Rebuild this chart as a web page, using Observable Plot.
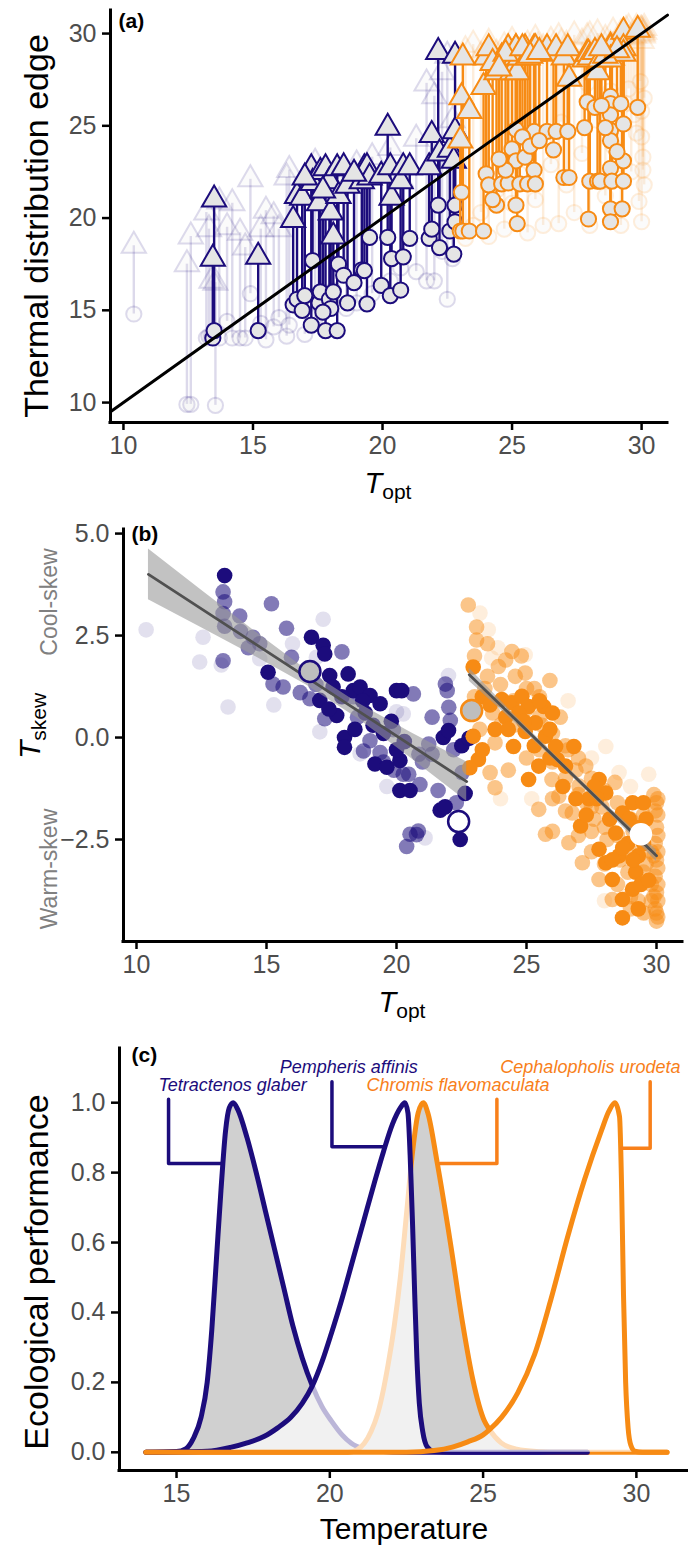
<!DOCTYPE html>
<html>
<head>
<meta charset="utf-8">
<script src="https://cdn.jsdelivr.net/npm/d3@7"></script>
<script src="https://cdn.jsdelivr.net/npm/@observablehq/plot@0.6"></script>
<style>
  body { margin: 0; background: #fff; }
  #chart { width: 688px; }
  #chart svg { display: block; }
  g[aria-label$="tick label"] { fill: #4d4d4d; }
</style>
</head>
<body>
<div id="chart"></div>
<script>
const fontStack = "'Liberation Sans', Arial, Helvetica, sans-serif";
const NAVY = "#1c0c7c";
const ORANGE = "#f78b14";
const TXT_ORANGE = "#f8801a";
const MARK_FILL = "#e5e5e5";

// ---------- Panel (a): [Topt, cool edge (circle), warm edge (triangle)] ----------
const ticksToptA = [10, 15, 20, 25, 30];
const ticksEdgeA = [10, 15, 20, 25, 30];
const domToptA = [9.5, 31.0];
const domEdgeA = [8.92, 31.25];

const navyBoldA = [
  [13.45,13.5,17.8],[13.5,13.9,21.0],[15.2,13.9,17.9],[16.55,15.3,19.9],[16.7,15.6,21.2],
  [16.9,15.0,21.1],[17.25,14.2,22.7],[17.3,17.7,21.9],[17.55,15.4,20.8],[17.6,16.0,22.5],
  [17.8,13.9,22.7],[17.95,15.6,22.0],[18.0,15.1,20.3],[18.1,16.0,19.0],[18.25,13.9,22.7],
  [18.3,17.5,21.2],[18.5,16.9,22.75],[18.65,15.4,21.75],[19.2,17.2,22.0],[19.3,17.15,22.7],
  [19.4,15.35,22.75],[19.5,18.95,22.2],[19.95,16.35,22.3],[20.2,18.95,24.9],[20.3,15.8,22.75],
  [20.35,17.8,21.1],[20.7,16.1,22.0],[20.8,17.9,22.75],[21.05,18.9,22.75],[21.8,18.9,22.75],
  [21.9,19.4,24.5],[22.15,20.7,29.0],[22.2,18.4,23.5],[22.6,19.3,23.7],[22.75,18.05,23.1],
  [22.8,20.7,28.8],[22.8,19.8,24.7],[17.0,15.8,22.2],[17.7,14.9,21.5],[18.9,16.5,22.4]
];
const orangeBoldA = [
  [23.0,19.3,24.2],[23.05,21.4,26.55],[23.1,19.3,28.7],[23.35,19.3,25.8],[23.9,19.3,27.1],
  [24.0,22.4,28.7],[24.1,21.8,29.2],[24.4,20.7,27.9],[24.6,21.85,28.7],[24.85,21.9,29.2],
  [25.0,23.75,27.9],[25.15,23.1,29.2],[25.15,24.8,28.7],[25.2,19.7,27.9],[25.15,20.7,29.2],
  [25.3,21.85,28.7],[25.5,23.3,29.2],[25.6,21.85,28.7],[25.85,22.6,29.2],[25.85,24.7,28.9],
  [25.9,21.85,29.2],[26.35,24.7,29.2],[26.6,23.7,28.9],[26.7,24.7,29.2],[27.0,22.2,28.7],
  [27.15,24.7,29.2],[27.2,22.2,27.55],[27.8,24.9,28.6],[27.9,26.3,28.9],[27.95,19.95,28.9],
  [28.0,22.0,28.7],[28.2,26.0,29.0],[28.3,22.0,27.9],[28.4,22.0,28.6],[28.8,26.6,29.3],
  [28.8,26.2,28.9],[28.8,25.6,29.0],[28.8,24.75,29.2],[28.8,24.2,28.9],[28.8,22.7,29.0],
  [28.85,22.0,28.7],[28.8,20.5,29.2],[28.8,19.8,28.6],[29.2,26.2,29.3],[29.25,20.5,29.2],
  [29.3,25.1,30.1],[29.3,23.1,29.2],[29.3,22.0,28.9],[29.85,26.0,30.2],
  [24.25,21.0,28.4],[24.75,22.6,28.9],[25.4,24.4,29.2],[25.7,23.9,28.8],[26.05,24.2,29.0],
  [24.5,23.2,28.1],[28.6,24.9,28.8],[29.05,23.6,29.1],[28.45,26.1,29.2]
];
const navyFadedA = [
  [10.4,14.8,18.5],[12.45,9.9,17.5],[12.6,9.9,19.0],[13.55,9.85,16.5],[13.2,13.5,20.3],
  [13.3,13.6,19.4],[13.4,13.6,16.6],[13.7,13.5,20.9],[14.0,14.4,19.5],[14.2,13.5,20.8],
  [14.5,13.5,19.2],[14.7,13.5,18.4],[14.9,15.9,22.1],[15.3,14.3,19.4],[15.5,13.4,20.4],
  [15.8,14.1,20.1],[16.0,14.6,19.4],[16.3,13.6,22.2],[16.4,14.2,22.6],[17.0,13.7,21.6],
  [17.4,14.6,23.0],[18.1,16.1,22.3],[18.6,15.1,22.2],[19.0,15.4,22.9],[19.6,15.9,23.3],
  [20.3,16.6,23.8],[20.7,17.3,22.1],[21.3,17.1,24.3],[21.7,16.6,27.3],[22.0,16.6,26.6],
  [22.3,18.2,27.9],[22.5,15.6,28.8],[22.7,17.8,25.3]
];
const orangeFadedA = [
  [23.2,18.9,29.1],[23.5,19.6,29.4],[23.8,20.3,28.8],[24.1,19.0,29.5],[24.4,21.5,28.9],
  [24.7,19.4,29.3],[25.0,20.8,29.6],[25.3,22.4,29.0],[25.6,19.2,29.4],[25.9,21.0,29.7],
  [26.2,19.6,29.2],[26.5,22.9,29.6],[26.8,19.7,29.8],[27.1,21.8,29.4],[27.4,20.3,29.9],
  [27.7,23.5,29.5],[28.0,19.6,29.9],[28.3,25.3,30.0],[28.6,21.2,29.7],[28.9,23.9,30.1],
  [29.2,19.6,30.0],[29.4,26.2,30.2],[29.6,22.5,29.8],[29.8,24.6,30.3],[29.9,20.9,30.0],
  [30.0,25.8,30.2],[30.05,23.3,29.9],[30.1,21.8,30.3],[30.1,26.5,30.1],[30.0,19.8,30.2],
  [29.5,27.0,30.3],[26.9,25.2,29.5],[26.0,24.3,29.3],[24.9,23.5,29.0],[27.9,27.3,29.8],
  [28.8,26.9,29.4],[30.0,24.4,29.6],[30.05,22.6,30.0],[29.95,27.4,30.2],[29.7,25.6,29.9]
];

// ---------- Panel (b): [Topt, Tskew] ----------
const ticksToptB = [10, 15, 20, 25, 30];
const ticksSkewB = [-2.5, 0, 2.5, 5];
const domToptB = [9.5, 31.0];
const domSkewB = [-5.0, 5.1];

const navySolidB = [
  [13.39,3.97],[16.73,2.46],[17.18,2.26],[17.24,2.05],[15.06,1.6],[17.43,1.52],[18.14,1.56],
  [17.56,1.24],[18.34,1.15],[18.6,1.24],[18.98,1.03],[19.37,0.83],[20.0,1.15],[17.05,0.91],
  [17.7,0.54],[18.0,0.0],[18.0,-0.24],[19.17,-0.65],[19.63,-0.73],[20.13,-0.56],[20.13,-1.3],
  [20.52,-1.3],[20.0,-0.3],[20.3,-0.1],[21.8,0.0],[22.51,-0.2],[22.64,-1.37],[21.68,-1.78],
  [21.87,-1.7],[22.45,-2.5],[22.79,-0.02],[22.0,0.17],[20.2,1.15],[18.8,0.6],[19.1,0.3],
  [18.4,0.2],[19.8,0.4],[17.9,1.0],[18.7,0.9],[19.5,0.1],[17.4,0.7]
];
const navyMidB = [
  [13.33,3.57],[13.39,3.33],[13.33,3.04],[13.97,2.98],[13.39,2.73],[15.19,3.28],[15.77,2.68],
  [14.48,2.46],[14.74,2.3],[13.33,1.88],[17.9,2.1],[15.25,1.31],[15.64,1.24],[16.67,0.95],
  [17.24,0.46],[15.96,1.97],[18.34,1.0],[18.98,-0.08],[19.37,-0.37],[18.73,-0.33],[19.88,0.19],
  [20.65,1.07],[20.26,-0.9],[20.52,-2.37],[20.84,-2.29],[21.88,1.31],[21.95,1.15],[22.01,0.74],
  [21.37,0.5],[22.07,0.42],[21.24,-0.16],[20.86,-0.41],[21.37,-0.41],[22.53,-0.86],[20.47,-0.9],
  [20.9,-1.15],[20.77,-2.38],[20.39,-2.67],[14.0,2.6],[16.3,1.1],[19.5,-0.6],[21.6,-1.3],
  [22.3,-1.6],[18.5,0.5],[14.3,2.2],[16.9,1.3],[19.9,-0.8],[21.0,-0.6],[22.2,-0.3]
];
const navyFaintB = [
  [10.37,2.64],[12.56,2.46],[12.43,1.85],[13.26,1.78],[13.52,0.75],[15.28,0.8],[17.18,2.9],
  [16.92,1.97],[20.0,0.63],[19.63,-1.2],[14.74,1.93],[17.05,0.14],[21.1,-2.46],[20.26,0.58],
  [22.0,1.52],[18.6,-0.4],[16.0,2.3]
];
const orangeSolidB = [
  [22.95,1.73],[22.95,0.03],[23.15,-0.54],[22.82,-0.74],[23.79,0.2],[24.05,0.93],[24.44,0.85],
  [24.82,1.01],[25.08,0.76],[25.66,0.76],[24.5,-0.22],[24.95,0.15],[25.34,0.36],[25.73,0.03],
  [26.12,-0.22],[26.82,-0.22],[25.08,-1.03],[25.47,-0.7],[26.5,-0.7],[27.08,-2.17],[27.79,-1.03],
  [28.05,-1.36],[27.79,-2.74],[28.05,-3.07],[28.43,-2.34],[28.69,-1.85],[29.08,-1.6],[28.95,-2.0],
  [28.56,-2.9],[28.3,-3.48],[28.69,-3.97],[29.08,-3.72],[28.69,-4.42],[29.2,-3.3],[26.18,-0.54],
  [27.6,-1.2],[26.0,0.6],[25.5,0.9],[24.2,0.5],[23.3,-0.3],[29.3,-2.9],[29.5,-1.6],[29.4,-3.6],
  [28.9,-2.6],[27.4,-1.5],[25.9,0.2],[24.7,0.6],
  [23.3,1.0],[23.6,0.8],[24.3,0.2],[24.9,0.4],[25.3,-0.2],[25.9,-0.5],[26.4,-1.2],[26.9,-1.5],
  [27.3,-1.9],[27.7,-1.5],[28.2,-2.0],[28.7,-2.7],[29.1,-3.0],[29.3,-4.2],[29.6,-2.0],[29.7,-3.5],
  [28.3,-3.0],[29.5,-2.6],[29.2,-2.2]
];
const orangeMidB = [
  [22.76,3.25],[23.08,2.71],[23.08,2.39],[23.92,1.74],[24.44,2.11],[24.57,1.5],[24.95,1.58],
  [23.79,-0.13],[23.6,-0.86],[23.79,-1.23],[25.47,-1.76],[25.73,-2.37],[26.63,-2.58],[27.15,-3.07],
  [26.24,-1.44],[27.02,-1.19],[27.79,-3.48],[28.3,-3.97],[25.98,-1.03],[26.76,-1.85],[27.28,-0.7],
  [23.4,1.2],[23.7,0.6],[24.2,1.9],[24.8,2.0],[25.3,1.2],[25.6,0.3],[25.9,1.4],[26.3,0.5],
  [26.6,-0.3],[26.9,-0.8],[27.3,-1.6],[27.6,-2.0],[27.9,-1.7],[28.1,-2.5],[28.4,-1.1],[28.6,-3.0],
  [28.9,-3.3],[29.1,-2.3],[29.3,-4.0],[29.5,-1.9],[29.6,-3.1],[29.9,-1.4],[29.95,-1.8],[30.0,-2.2],
  [29.95,-2.6],[30.0,-3.0],[29.95,-3.4],[30.0,-3.8],[29.95,-4.2],[30.0,-4.5],[29.9,-2.9],[30.0,-1.6],
  [25.0,-0.5],[24.3,-0.8],[26.0,-2.3],[23.2,0.2],
  [23.0,1.0],[23.0,2.0],[23.5,1.5],[23.5,2.3],[24.0,1.3],[24.0,0.3],[24.5,0.9],[24.5,0.3],
  [25.0,0.7],[25.0,1.2],[25.5,-0.3],[25.5,0.5],[25.5,1.0],[26.0,-0.6],[26.0,0.1],[26.0,-1.5],
  [26.5,-1.0],[26.5,-0.2],[26.5,-1.8],[27.0,-1.4],[27.0,-0.5],[27.0,-2.4],[27.5,-1.7],[27.5,-1.0],
  [27.5,-2.8],[27.5,-2.3],[28.0,-2.2],[28.0,-1.3],[28.0,-3.1],[28.5,-2.4],[28.5,-1.6],[28.5,-3.6],
  [29.0,-2.8],[29.0,-2.0],[29.0,-3.9],[29.0,-4.2],[29.5,-3.3],[29.5,-2.5],[29.5,-4.3],[29.8,-3.6],
  [29.8,-2.8],[29.8,-4.0],[30.05,-1.5],[30.05,-1.9],[30.05,-2.4],[30.05,-2.8],[30.05,-3.2],
  [30.05,-3.6],[30.05,-4.0],[30.05,-4.4],[30.0,-4.3],[29.9,-3.9]
];
const orangeFaintB = [
  [23.21,3.05],[23.53,2.64],[23.66,1.95],[24.95,2.03],[28.05,-0.22],[28.56,-0.86],[23.9,2.2],
  [26.6,0.9],[27.5,-0.5],[29.0,-1.2],[29.6,-4.3],[28.0,-4.0],[25.2,-1.5],[24.0,-1.5],[29.7,-0.9],
  [28.8,-3.9]
];
// fitted lines and confidence ribbons [Topt, lower, upper]
const navyFitLine = [[10.46,4.0],[22.7,-1.08]];
const navyRibbon = [[10.46,3.38,4.62],[12.5,2.69,3.61],[14.5,2.01,2.63],[16.5,1.30,1.68],
                    [18.5,0.47,0.85],[20.5,-0.48,0.14],[22.7,-1.56,-0.60]];
const orangeFitLine = [[22.8,1.54],[30.0,-2.9]];
const orangeRibbon = [[22.8,1.38,1.70],[24.5,0.40,0.58],[26.4,-0.74,-0.62],[28.2,-1.86,-1.72],[30.0,-3.04,-2.76]];
// highlighted species [Topt, Tskew]
const hiTetractenos = [[16.67,1.62]];
const hiChromis = [[22.89,0.66]];
const hiPempheris = [[22.39,-2.06]];
const hiCephalopholis = [[29.4,-2.37]];

// ---------- Panel (c): [Temperature, performance] ----------
const ticksTemp = [15, 20, 25, 30];
const ticksPerf = [0, 0.2, 0.4, 0.6, 0.8, 1.0];
const domTemp = [13.14, 31.7];
const domPerf = [-0.052, 1.155];

const tetCurve = [[14,0],[15,0.002],[15.3,0.01],[15.55,0.04],[15.8,0.1],[16.0,0.2],[16.15,0.35],
  [16.3,0.55],[16.45,0.75],[16.6,0.92],[16.72,0.985],[16.85,1.0],[17.0,0.98],[17.3,0.9],[17.6,0.8],
  [17.9,0.69],[18.2,0.58],[18.5,0.47],[18.8,0.36],[19.1,0.27],[19.43,0.19],[19.75,0.13],[20.05,0.09],
  [20.4,0.05],[20.7,0.026],[21.1,0.01],[21.6,0.003],[22.5,0],[28.4,0]];
const pemCurve = [[14,0],[16.0,0.003],[16.76,0.014],[17.3,0.027],[17.85,0.045],[18.3,0.07],[18.73,0.1],
  [19.1,0.14],[19.43,0.19],[19.75,0.26],[20.05,0.34],[20.4,0.44],[20.75,0.55],[21.1,0.66],[21.45,0.77],
  [21.75,0.86],[22.05,0.94],[22.3,0.985],[22.45,1.0],[22.55,0.97],[22.62,0.85],[22.7,0.65],[22.77,0.45],
  [22.84,0.27],[22.92,0.14],[23.03,0.06],[23.18,0.015],[23.4,0.002],[24,0],[28.4,0]];
const chrCurve = [[14,0],[20.6,0],[20.9,0.008],[21.12,0.025],[21.35,0.06],[21.56,0.11],[21.75,0.18],
  [21.9,0.25],[22.1,0.36],[22.3,0.5],[22.5,0.68],[22.7,0.86],[22.88,0.97],[23.05,1.0],[23.2,0.97],
  [23.5,0.83],[23.95,0.59],[24.33,0.37],[24.66,0.21],[25.04,0.09],[25.21,0.065],[25.59,0.027],
  [26.1,0.009],[26.8,0.002],[27.5,0],[31,0]];
const cepCurve = [[14,0],[22.5,0],[23.4,0.005],[24.0,0.015],[24.5,0.03],[25.0,0.05],[25.21,0.065],
  [25.6,0.1],[26.13,0.17],[26.68,0.28],[27.22,0.44],[27.77,0.62],[28.31,0.78],[28.86,0.92],[29.1,0.975],
  [29.3,1.0],[29.45,0.96],[29.52,0.75],[29.58,0.45],[29.65,0.2],[29.73,0.07],[29.82,0.02],[29.95,0.003],
  [30.2,0],[31,0]];
const speciesNames = ["Tetractenos glaber", "Pempheris affinis", "Chromis flavomaculata", "Cephalopholis urodeta"];
const labelTemp = [16.83, 20.62, 24.18, 28.5];
const labelPerf = [1.05, 1.10, 1.05, 1.10];
const bracketTet = [[14.74,1.01],[14.74,0.826],[16.47,0.826]];
const bracketPem = [[20.07,1.06],[20.07,0.874],[21.75,0.874]];
const bracketChr = [[25.45,1.01],[25.45,0.826],[23.6,0.826]];
const bracketCep = [[30.45,1.06],[30.45,0.87],[29.5,0.87]];

// ---------- helpers ----------
const X = d => d[0], Y = d => d[1], LO = d => d[1], HI = d => d[2];
const styleBase = {fontFamily: fontStack, fontSize: "25px", background: "white", overflow: "visible"};

function rangeMarks(data, color, op) {
  return [
    Plot.ruleX(data, {x: X, y1: LO, y2: HI, stroke: color, strokeWidth: 2.4, opacity: op}),
    Plot.dot(data, {x: X, y: LO, r: 7.6, symbol: "circle", fill: MARK_FILL, stroke: color, strokeWidth: 2, opacity: op}),
    Plot.dot(data, {x: X, y: HI, r: 9, symbol: "triangle", fill: MARK_FILL, stroke: color, strokeWidth: 2, opacity: op})
  ];
}
function axisMarks(xTicks, yTicks, xDom, yDom, yFmt) {
  return [
    Plot.ruleX([xDom[0]], {stroke: "black", strokeWidth: 3, strokeLinecap: "square"}),
    Plot.ruleY([yDom[0]], {stroke: "black", strokeWidth: 3, strokeLinecap: "square"}),
    Plot.axisY({ticks: yTicks, tickSize: 8, tickPadding: 6, strokeWidth: 2.5, fontSize: 25, label: null, tickFormat: yFmt}),
    Plot.axisX({ticks: xTicks, tickSize: 8, tickPadding: 6, strokeWidth: 2.5, fontSize: 25, label: null})
  ];
}
function panelTag(t, dx, dy) {
  return Plot.text([t], {frameAnchor: "top-left", lineAnchor: "middle", dx, dy, text: d => d, fontWeight: "bold", fontSize: 21, textAnchor: "start", fill: "black"});
}
function subTitle(svg, main, sub, x, y, rotate, mainSize, subSize) {
  const t = d3.select(svg).append("text")
    .attr("transform", `translate(${x},${y})` + (rotate ? " rotate(-90)" : ""))
    .attr("text-anchor", "middle").attr("font-family", fontStack).attr("fill", "black");
  t.append("tspan").attr("font-style", "italic").attr("font-size", mainSize).text(main);
  t.append("tspan").attr("font-size", subSize).attr("dy", 6).text(sub);
}
function plainTitle(svg, text, x, y, rotate, size, color) {
  d3.select(svg).append("text")
    .attr("transform", `translate(${x},${y})` + (rotate ? " rotate(-90)" : ""))
    .attr("text-anchor", "middle").attr("font-family", fontStack)
    .attr("font-size", size).attr("fill", color || "black").text(text);
}

// ---------- Panel (a) ----------
const svgA = Plot.plot({
  width: 688, height: 500, marginLeft: 110, marginRight: 21, marginTop: 10, marginBottom: 78,
  style: styleBase,
  x: {domain: domToptA}, y: {domain: domEdgeA},
  marks: [
    ...rangeMarks(navyFadedA, NAVY, 0.15),
    ...rangeMarks(orangeFadedA, ORANGE, 0.15),
    ...rangeMarks(navyBoldA, NAVY, 1),
    ...rangeMarks(orangeBoldA, ORANGE, 1),
    Plot.line(domToptA, {x: d => d, y: d => d, stroke: "black", strokeWidth: 3}),
    ...axisMarks(ticksToptA, ticksEdgeA, domToptA, domEdgeA, d => d),
    panelTag("(a)", 8, 11)
  ]
});
plainTitle(svgA, "Thermal distribution edge", 48, 226, true, 34);
subTitle(svgA, "T", "opt", 388, 493, false, 29, 21);

// ---------- Panel (b) ----------
const dotsB = (data, color, op) => Plot.dot(data, {x: X, y: Y, r: 7.8, fill: color, opacity: op});
const svgB = Plot.plot({
  width: 688, height: 530, marginLeft: 123, marginRight: 6, marginTop: 29, marginBottom: 89,
  style: styleBase,
  x: {domain: domToptB}, y: {domain: domSkewB},
  marks: [
    dotsB(navyFaintB, NAVY, 0.13),
    dotsB(orangeFaintB, ORANGE, 0.15),
    dotsB(navyMidB, NAVY, 0.55),
    dotsB(orangeMidB, ORANGE, 0.5),
    dotsB(navySolidB, NAVY, 1),
    dotsB(orangeSolidB, ORANGE, 1),
    Plot.areaY(navyRibbon, {x: X, y1: LO, y2: HI, fill: "#999999", fillOpacity: 0.6}),
    Plot.areaY(orangeRibbon, {x: X, y1: LO, y2: HI, fill: "#999999", fillOpacity: 0.6}),
    Plot.line(navyFitLine, {x: X, y: Y, stroke: "#505050", strokeWidth: 2.8}),
    Plot.line(orangeFitLine, {x: X, y: Y, stroke: "#505050", strokeWidth: 2.8}),
    Plot.dot(hiTetractenos, {x: X, y: Y, r: 10.5, fill: "#bebebe", stroke: NAVY, strokeWidth: 2.5}),
    Plot.dot(hiChromis, {x: X, y: Y, r: 10.5, fill: "#bebebe", stroke: ORANGE, strokeWidth: 2.5}),
    Plot.dot(hiPempheris, {x: X, y: Y, r: 10.5, fill: "white", stroke: NAVY, strokeWidth: 2.5}),
    Plot.dot(hiCephalopholis, {x: X, y: Y, r: 10.5, fill: "white", stroke: "white", strokeWidth: 1.5}),
    ...axisMarks(ticksToptB, ticksSkewB, domToptB, domSkewB, d3.format(".1f")),
    panelTag("(b)", 8, 5)
  ]
});
subTitle(svgB, "T", "skew", 40, 226, true, 30, 21);
plainTitle(svgB, "Cool-skew", 57, 102, true, 23, "#808080");
plainTitle(svgB, "Warm-skew", 57, 369, true, 23, "#808080");
subTitle(svgB, "T", "opt", 402, 512, false, 29, 21);

// ---------- Panel (c) ----------
const curveOpts = {x: X, y: Y, curve: "monotone-x"};
const lineC = (data, color) => Plot.line(data, {...curveOpts, stroke: color, strokeWidth: 5, strokeLinejoin: "round", strokeLinecap: "round"});
const bracket = (data, color) => Plot.line(data, {x: X, y: Y, stroke: color, strokeWidth: 3.5});
const labelC = (idx, color) => Plot.text([speciesNames[idx]], {x: () => labelTemp[idx], y: () => labelPerf[idx], text: d => d, fill: color, fontStyle: "italic", fontSize: 18});
const svgC = Plot.plot({
  width: 688, height: 517, marginLeft: 119, marginRight: 0, marginTop: 18, marginBottom: 77,
  style: styleBase,
  x: {domain: domTemp}, y: {domain: domPerf},
  marks: [
    Plot.areaY(tetCurve, {...curveOpts, fill: "#d0d0d0"}),
    lineC(tetCurve, NAVY),
    Plot.areaY(chrCurve, {...curveOpts, fill: "#d0d0d0"}),
    lineC(chrCurve, ORANGE),
    Plot.areaY(pemCurve, {...curveOpts, fill: "white", fillOpacity: 0.7}),
    lineC(pemCurve, NAVY),
    Plot.areaY(cepCurve, {...curveOpts, fill: "white", fillOpacity: 0.7}),
    lineC(cepCurve, ORANGE),
    bracket(bracketTet, NAVY),
    bracket(bracketPem, NAVY),
    bracket(bracketChr, TXT_ORANGE),
    bracket(bracketCep, TXT_ORANGE),
    labelC(0, NAVY),
    labelC(1, NAVY),
    labelC(2, TXT_ORANGE),
    labelC(3, TXT_ORANGE),
    ...axisMarks(ticksTemp, ticksPerf, domTemp, domPerf, d3.format(".1f")),
    panelTag("(c)", 12, 7)
  ]
});
plainTitle(svgC, "Ecological performance", 48, 242, true, 34);
plainTitle(svgC, "Temperature", 404, 509, false, 30);

const root = document.getElementById("chart");
root.append(svgA, svgB, svgC);
</script>
</body>
</html>
